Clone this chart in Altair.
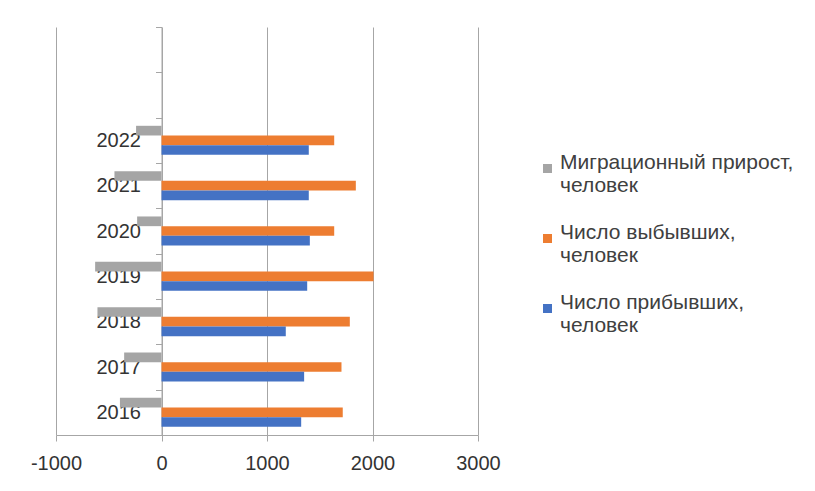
import altair as alt
import pandas as pd

years = ["2016", "2017", "2018", "2019", "2020", "2021", "2022"]
arrived = [1324, 1352, 1178, 1381, 1406, 1396, 1396]
departed = [1718, 1706, 1785, 2010, 1637, 1842, 1637]
migration = [-394, -354, -607, -629, -231, -446, -241]

series = ["Миграционный прирост, человек", "Число выбывших, человек", "Число прибывших, человек"]
colors = ["#A5A5A5", "#ED7D31", "#4472C4"]
empty_slots = [" ", "  "]
x_ticks = [-1000, 0, 1000, 2000, 3000]

rows = []
for i, y in enumerate(years):
    rows.append({"year": y, "series": series[0], "value": migration[i]})
    rows.append({"year": y, "series": series[1], "value": departed[i]})
    rows.append({"year": y, "series": series[2], "value": arrived[i]})
df = pd.DataFrame(rows)

y_domain = empty_slots + years[::-1]

font = "Liberation Sans"
grey = "#A6A6A6"

chart = alt.Chart(df).mark_bar().encode(
    x=alt.X("value:Q",
            scale=alt.Scale(domain=[-1000, 3000], nice=False, zero=False),
            axis=alt.Axis(values=x_ticks, title=None, grid=True, gridColor=grey,
                          domainColor=grey, tickColor=grey, tickSize=6,
                          labelFontSize=20, labelFont=font, labelColor="#333333",
                          labelPadding=12, labelFlush=False,
                          labelExpr="'' + datum.value")),
    y=alt.Y("year:N",
            scale=alt.Scale(domain=y_domain, paddingInner=0, paddingOuter=0),
            axis=alt.Axis(title=None, offset=-105.5, tickBand="extent",
                          domainColor=grey, tickColor=grey, tickSize=6,
                          labelFontSize=20, labelFont=font, labelColor="#333333",
                          labelPadding=15, grid=False)),
    yOffset=alt.YOffset("series:N",
                        scale=alt.Scale(domain=series, paddingInner=0, paddingOuter=0.84)),
    color=alt.Color("series:N",
                    scale=alt.Scale(domain=series, range=colors),
                    legend=alt.Legend(
                        title=None, orient="none", legendX=481, legendY=131,
                        symbolType="square", symbolSize=81, symbolStrokeWidth=0,
                        labelFontSize=21, labelFont=font, labelColor="#404040",
                        labelLimit=400, labelOffset=2, rowPadding=25, padding=0,
                        labelExpr="[split(datum.label, ', ')[0] + ',', split(datum.label, ', ')[1]]",
                        labelBaseline="alphabetic")),
).properties(
    width=422, height=408,
    autosize=alt.AutoSizeParams(type="none"),
    padding={"left": 48, "top": 19, "right": 329, "bottom": 48},
).configure_view(stroke=None)

chart.save("out.html", embed_options={"renderer": "svg", "actions": False})
